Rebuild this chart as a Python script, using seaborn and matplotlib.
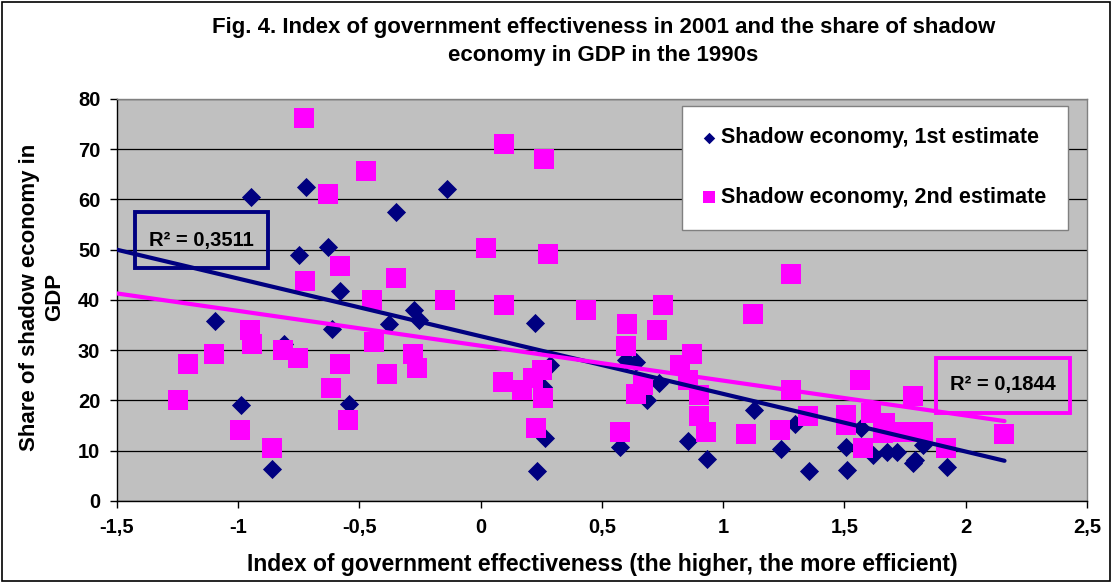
import numpy as np
import pandas as pd
import seaborn as sns
import matplotlib.pyplot as plt
from matplotlib.patches import Rectangle

# Shadow economy, 1st estimate
est1_x = [-0.949, -0.719, -0.140, -0.348, -0.629, -0.751, -0.579, -1.097, -0.612, -0.380,
          -0.274, -0.256, -0.811, -0.990, -0.545, -0.860, 0.222, 0.286, 0.257, 0.265,
          0.231, 0.601, 0.642, 0.736, 0.684, 0.574, 0.856, 0.932, 1.127, 1.237,
          1.354, 1.296, 1.508, 1.509, 1.619, 1.674, 1.718, 1.781, 1.790, 1.921,
          1.825, 1.570]
est1_y = [60.4, 62.4, 62.0, 57.6, 50.5, 48.9, 41.7, 35.8, 34.2, 35.2,
          38.0, 36.0, 31.2, 19.1, 19.2, 6.3, 35.4, 27.1, 22.7, 12.5,
          6.0, 28.1, 27.6, 23.4, 20.1, 10.8, 11.9, 8.3, 18.2, 10.3,
          6.0, 15.3, 10.7, 6.2, 9.2, 9.8, 9.8, 7.5, 8.2, 6.8,
          11.1, 14.5]

# Shadow economy, 2nd estimate
est2_x = [-0.729, -0.474, -0.631, 0.020, -0.582, -0.723, -0.351, -0.450, -0.146, -0.953,
          -0.944, -1.101, -1.208, -0.814, -0.755, -0.441, -0.582, -0.278, -0.262, -0.385,
          -0.616, -1.250, -0.994, -0.549, -0.862, 0.095, 0.260, 0.276, 0.095, 0.433,
          0.753, 0.604, 0.728, 1.124, 0.598, 1.280, 0.093, 0.169, 0.217, 0.251,
          0.258, 0.227, 0.574, 0.639, 0.670, 0.822, 0.870, 0.856, 0.902, 0.902,
          0.928, 1.093, 1.233, 1.280, 1.348, 1.563, 1.784, 1.505, 1.505, 1.609,
          1.667, 1.743, 1.825, 1.660, 1.578, 1.917, 2.157]
est2_y = [76.2, 65.7, 61.0, 50.3, 46.7, 43.8, 44.3, 39.9, 39.9, 34.1,
          31.2, 29.2, 27.2, 30.0, 28.5, 31.6, 27.3, 29.3, 26.4, 25.2,
          22.4, 20.0, 14.1, 16.1, 10.5, 71.0, 68.1, 49.1, 39.1, 38.0,
          39.1, 35.2, 34.0, 37.2, 30.8, 45.1, 23.7, 22.1, 24.4, 26.1,
          20.4, 14.5, 13.8, 21.2, 23.1, 27.1, 29.3, 24.1, 21.1, 16.9,
          13.7, 13.3, 14.1, 22.1, 16.9, 24.1, 20.8, 17.1, 15.1, 17.5,
          15.5, 13.8, 13.8, 13.5, 10.5, 10.5, 13.3]

# linear trend lines (start / end values)
trend_x = [-1.5, 2.16]
trend1_y = [50.0, 8.0]
trend2_y = [41.3, 15.9]

series_names = ["Shadow economy, 1st estimate", "Shadow economy, 2nd estimate"]
r2_labels = ["R\u00b2 = 0,3511", "R\u00b2 = 0,1844"]
xtick_vals = [-1.5, -1, -0.5, 0, 0.5, 1, 1.5, 2, 2.5]
xtick_labels = ["-1,5", "-1", "-0,5", "0", "0,5", "1", "1,5", "2", "2,5"]
ytick_vals = [0, 10, 20, 30, 40, 50, 60, 70, 80]

navy = "#000080"
magenta = "#FF00FF"

sns.set_style("white")
plt.rcParams['font.family'] = ['Liberation Sans', 'DejaVu Sans']
plt.rcParams['font.weight'] = 'bold'
plt.rcParams['text.color'] = 'black'
plt.rcParams['xtick.color'] = 'black'
plt.rcParams['ytick.color'] = 'black'

df1 = pd.DataFrame({"x": est1_x, "y": est1_y})
df2 = pd.DataFrame({"x": est2_x, "y": est2_y})

fig = plt.figure(figsize=(11.13, 5.83), dpi=100)
ax = fig.add_axes([0.1051, 0.1407, 0.8715, 0.6895])
ax.set_facecolor("#C0C0C0")

sns.scatterplot(x="x", y="y", data=df1, ax=ax, marker="D", s=95, color=navy,
                edgecolor=navy, linewidth=0, label=series_names[0], zorder=3)
sns.scatterplot(x="x", y="y", data=df2, ax=ax, marker="s", s=190, color=magenta,
                edgecolor=magenta, linewidth=0, label=series_names[1], zorder=4)

ax.plot(trend_x, trend1_y, color=navy, linewidth=3, zorder=5, solid_capstyle="round")
ax.plot(trend_x, trend2_y, color=magenta, linewidth=3, zorder=5, solid_capstyle="round")

# R^2 boxes
ax.add_patch(Rectangle((-1.426, 46.4), 0.549, 11.1, fill=False, edgecolor=navy,
                       linewidth=2.8, zorder=6))
ax.text(-1.152, 51.9, r2_labels[0], ha="center", va="center", fontsize=14.5,
        fontweight="bold", color="black", zorder=7)
ax.add_patch(Rectangle((1.877, 17.5), 0.553, 11.0, fill=False, edgecolor=magenta,
                       linewidth=2.8, zorder=6))
ax.text(2.154, 23.1, r2_labels[1], ha="center", va="center", fontsize=14.5,
        fontweight="bold", color="black", zorder=7)

ax.set_xlim(-1.5, 2.5)
ax.set_ylim(0, 80)
ax.set_xticks(xtick_vals)
ax.set_xticklabels(xtick_labels)
ax.set_yticks(ytick_vals)
ax.tick_params(axis="both", labelsize=14.5, direction="out", length=5, width=1,
               color="black", labelcolor="black", pad=7, bottom=True, left=True)
for lab in ax.get_xticklabels() + ax.get_yticklabels():
    lab.set_fontweight("bold")
ax.grid(axis="y", color="black", linewidth=0.9)
ax.set_axisbelow(True)
ax.set_xlabel("")
ax.set_ylabel("")
for side in ["top", "right"]:
    ax.spines[side].set_color("#808080")
for side in ["left", "bottom"]:
    ax.spines[side].set_color("black")
for sp in ax.spines.values():
    sp.set_linewidth(1)

leg = ax.legend(loc="upper right", bbox_to_anchor=(0.980, 0.983), borderaxespad=0,
                frameon=True, fancybox=False, edgecolor="#808080", framealpha=1,
                facecolor="white", labelspacing=1.8, markerscale=0.6,
                handletextpad=0.3, handlelength=0.5, borderpad=1.0,
                prop={"size": 15.5, "weight": "bold"})
leg.get_frame().set_linewidth(1)
for t in leg.get_texts():
    t.set_color("black")

fig.text(0.542, 0.929,
         "Fig. 4. Index of government effectiveness in 2001 and the share of shadow\n"
         "economy in GDP in the 1990s",
         ha="center", va="center", fontsize=16, fontweight="bold", linespacing=1.4)
fig.text(0.541, 1 - 565 / 583,
         "Index of government effectiveness (the higher, the more efficient)",
         ha="center", va="center", fontsize=16.5, fontweight="bold")
fig.text(42 / 1113, 1 - 297 / 583, "Share of shadow economy in\nGDP", rotation=90,
         ha="center", va="center", fontsize=16, fontweight="bold", linespacing=1.25)

fig.add_artist(Rectangle((0.002, 0.003), 0.995, 0.994, transform=fig.transFigure,
                         fill=False, edgecolor="black", linewidth=1.2))

fig.savefig("out.png", dpi=100)
